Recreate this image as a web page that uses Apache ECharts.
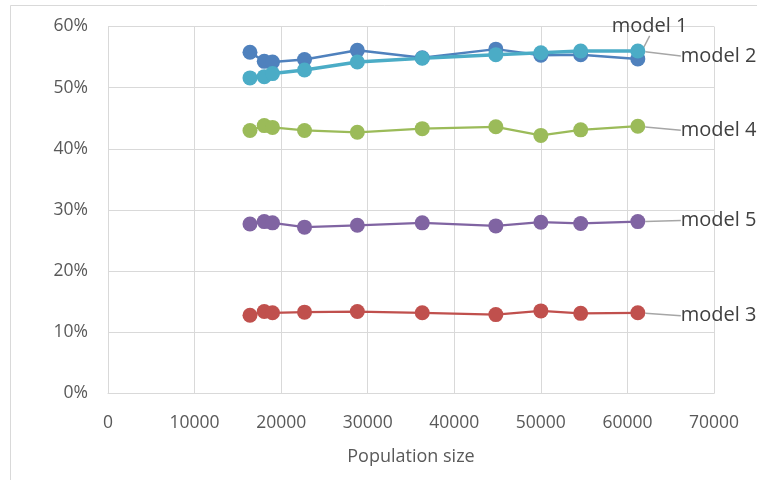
<!DOCTYPE html>
<html>
<head>
<meta charset="utf-8">
<style>
  html, body { margin: 0; padding: 0; background: #fff; }
  #chart { width: 757px; height: 480px; }
</style>
<script src="https://cdn.jsdelivr.net/npm/echarts@6/dist/echarts.min.js"></script>
</head>
<body>
<div id="chart"></div>
<script>
// Population sizes (x) and per-model shares in percent (y)
const popSize = [16400, 18050, 19000, 22700, 28800, 36300, 44800, 50000, 54600, 61200];
const model1 = [55.8, 54.3, 54.2, 54.6, 56.1, 54.9, 56.3, 55.3, 55.4, 54.7];
const model2 = [51.6, 51.8, 52.3, 52.9, 54.2, 54.8, 55.4, 55.7, 56.0, 56.0];
const model3 = [12.8, 13.4, 13.2, 13.3, 13.4, 13.2, 12.9, 13.5, 13.1, 13.2];
const model4 = [43.0, 43.8, 43.5, 43.0, 42.7, 43.3, 43.6, 42.2, 43.1, 43.7];
const model5 = [27.7, 28.1, 27.9, 27.2, 27.5, 27.9, 27.4, 28.0, 27.8, 28.1];

const xTicks = [0, 10000, 20000, 30000, 40000, 50000, 60000, 70000];
const yTicks = [0, 10, 20, 30, 40, 50, 60];

const FONT = "'Open Sans', 'Noto Sans', sans-serif";

function makeSeries(name, values, color, width, labelOffset) {
  const data = popSize.map((x, i) => {
    const item = { value: [x, values[i] / 100] };
    if (i === popSize.length - 1) {
      // series name printed beside the last point, with a grey leader line
      item.label = {
        show: true,
        position: 'inside',
        align: 'left',
        verticalAlign: 'middle',
        offset: labelOffset,
        formatter: name,
        color: '#404040',
        fontSize: 20,
        fontFamily: FONT
      };
      item.labelLine = {
        show: true,
        lineStyle: { color: '#A6A6A6', width: 1.5 }
      };
    }
    return item;
  });
  return {
    name: name,
    type: 'line',
    data: data,
    symbol: 'circle',
    symbolSize: 15,
    showAllSymbol: true,
    itemStyle: { color: color },
    lineStyle: { color: color, width: width },
    label: { show: false },
    emphasis: { disabled: true },
    animation: false,
    z: 2
  };
}

const chart = echarts.init(document.getElementById('chart'), null, { renderer: 'canvas' });

chart.setOption({
  backgroundColor: '#ffffff',
  animation: false,
  graphic: [{
    type: 'rect',
    shape: { x: 10.5, y: 5.5, width: 800, height: 520 },
    style: { fill: 'none', stroke: '#D9D9D9', lineWidth: 1 },
    silent: true,
    z: -10
  }],
  grid: { left: 108, top: 26.5, right: 43, bottom: 86.5, containLabel: false },
  xAxis: {
    type: 'value',
    min: xTicks[0],
    max: xTicks[xTicks.length - 1],
    interval: xTicks[1] - xTicks[0],
    name: 'Population size',
    nameLocation: 'middle',
    nameGap: 54,
    nameTextStyle: { color: '#595959', fontSize: 18, fontFamily: FONT },
    axisLine: { show: true, lineStyle: { color: '#D9D9D9', width: 1 } },
    axisTick: { show: false },
    splitLine: { show: true, lineStyle: { color: '#D9D9D9', width: 1 } },
    axisLabel: {
      color: '#595959', fontSize: 17.5, fontFamily: FONT, margin: 21,
      formatter: v => String(v)
    }
  },
  yAxis: {
    type: 'value',
    min: yTicks[0] / 100,
    max: yTicks[yTicks.length - 1] / 100,
    interval: (yTicks[1] - yTicks[0]) / 100,
    axisLine: { show: true, lineStyle: { color: '#D9D9D9', width: 1 } },
    axisTick: { show: false },
    splitLine: { show: true, lineStyle: { color: '#D9D9D9', width: 1 } },
    axisLabel: {
      color: '#595959', fontSize: 17.5, fontFamily: FONT, margin: 20,
      formatter: v => Math.round(v * 100) + '%'
    }
  },
  series: [
    makeSeries('model 1', model1, '#4F81BD', 2.5, [-26, -33]),
    makeSeries('model 3', model3, '#C0504D', 2.25, [43, 3]),
    makeSeries('model 4', model4, '#9BBB59', 2.25, [43, 4]),
    makeSeries('model 5', model5, '#8064A2', 2.25, [43, -1]),
    makeSeries('model 2', model2, '#4BACC6', 3.5, [43, 5])
  ]
});
</script>
</body>
</html>
